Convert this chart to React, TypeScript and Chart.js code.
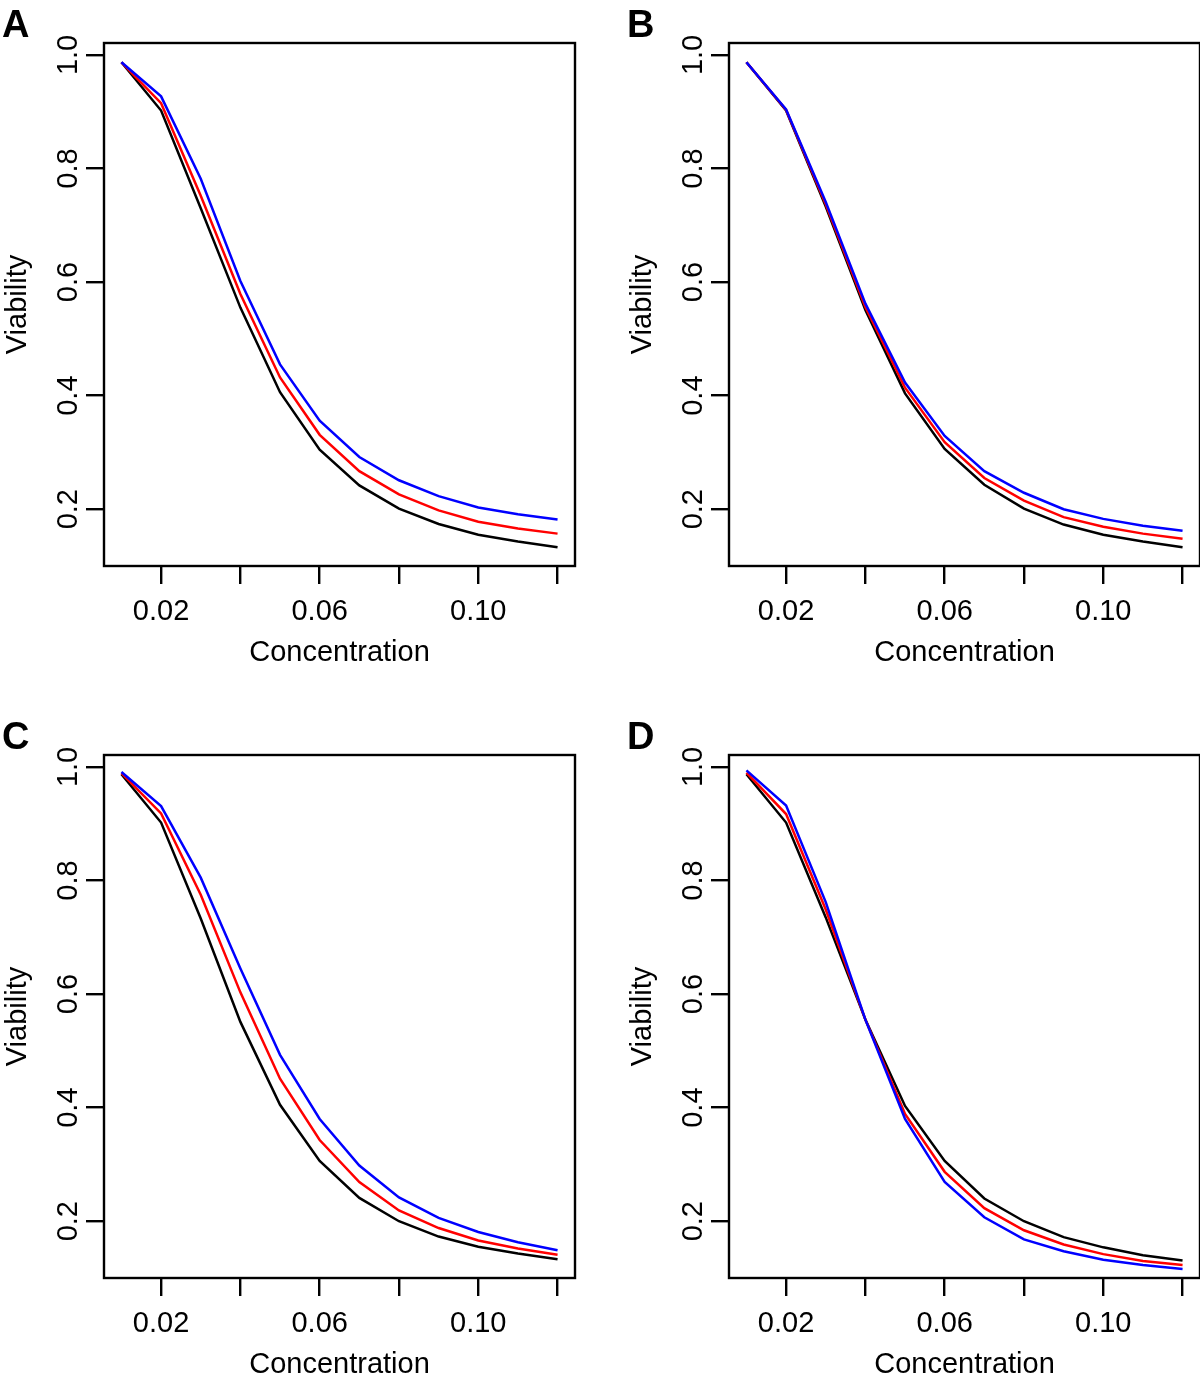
import React, { useEffect, useRef } from "react";
import { Chart, registerables } from "chart.js";

Chart.register(...registerables);

// ---- data ----
const concentration = [0.01, 0.02, 0.03, 0.04, 0.05, 0.06, 0.07, 0.08, 0.09, 0.1, 0.11, 0.12];
const xTicks = [0.02, 0.04, 0.06, 0.08, 0.1, 0.12];
const xTickLabels = [0.02, 0.06, 0.1];
const yTicks = [0.2, 0.4, 0.6, 0.8, 1.0];
const panelLetters = ["A", "B", "C", "D"];
const xTitle = "Concentration";
const yTitle = "Viability";

const blackA = [0.987, 0.902, 0.73, 0.555, 0.406, 0.305, 0.242, 0.201, 0.174, 0.155, 0.143, 0.133];
const redA = [0.987, 0.915, 0.752, 0.579, 0.432, 0.331, 0.267, 0.226, 0.198, 0.178, 0.166, 0.157];
const blueA = [0.987, 0.927, 0.782, 0.602, 0.455, 0.356, 0.292, 0.251, 0.223, 0.203, 0.191, 0.182];

const blackB = [0.987, 0.902, 0.733, 0.551, 0.404, 0.306, 0.243, 0.201, 0.173, 0.155, 0.143, 0.133];
const redB = [0.987, 0.903, 0.737, 0.556, 0.414, 0.318, 0.255, 0.215, 0.186, 0.169, 0.157, 0.148];
const blueB = [0.987, 0.904, 0.741, 0.562, 0.423, 0.329, 0.267, 0.229, 0.2, 0.183, 0.171, 0.162];

const blackC = [0.987, 0.902, 0.733, 0.551, 0.405, 0.306, 0.241, 0.2, 0.173, 0.155, 0.143, 0.133];
const redC = [0.989, 0.918, 0.775, 0.603, 0.451, 0.343, 0.269, 0.219, 0.188, 0.166, 0.152, 0.141];
const blueC = [0.991, 0.931, 0.805, 0.645, 0.493, 0.38, 0.298, 0.242, 0.206, 0.181, 0.163, 0.149];

const blackD = [0.987, 0.902, 0.735, 0.555, 0.403, 0.306, 0.24, 0.2, 0.172, 0.154, 0.14, 0.131];
const redD = [0.99, 0.917, 0.749, 0.555, 0.389, 0.287, 0.223, 0.184, 0.159, 0.142, 0.13, 0.123];
const blueD = [0.994, 0.932, 0.762, 0.555, 0.38, 0.269, 0.207, 0.168, 0.147, 0.132, 0.123, 0.116];

const panelSeries = [
  [blackA, redA, blueA],
  [blackB, redB, blueB],
  [blackC, redC, blueC],
  [blackD, redD, blueD],
];

const X_MIN = 0.0056;
const X_MAX = 0.1244;
const Y_MIN = 0.1;
const Y_MAX = 1.021;

const FONT = '"Liberation Sans", Arial, Helvetica, sans-serif';

// layout (pixels)
const CANVAS_W = 577;
const CANVAS_H = 668;
const AREA_LEFT = 104;
const AREA_TOP = 43;
const AREA_RIGHT = 575;
const AREA_BOTTOM = 566;
const panelPositions = [
  { left: 0, top: 0 },
  { left: 625, top: 0 },
  { left: 0, top: 712 },
  { left: 625, top: 712 },
];

function fmt(v: number, digits: number) {
  return v.toFixed(digits);
}

const decorPlugin = {
  id: "decor",
  afterDraw(chart: any) {
    const { ctx, chartArea } = chart;
    const xs = chart.scales.x;
    const ys = chart.scales.y;
    const letter = chart.options.plugins.decor.letter;
    ctx.save();
    // box
    ctx.strokeStyle = "#000";
    ctx.lineWidth = 2.4;
    ctx.strokeRect(chartArea.left, chartArea.top, chartArea.right - chartArea.left, chartArea.bottom - chartArea.top);

    ctx.fillStyle = "#000";
    ctx.font = `29px ${FONT}`;
    ctx.textBaseline = "alphabetic";
    // x tick labels
    ctx.textAlign = "center";
    xTickLabels.forEach((v) => {
      ctx.fillText(fmt(v, 2), xs.getPixelForValue(v), chartArea.bottom + 54);
    });
    // x title
    ctx.fillText(xTitle, (chartArea.left + chartArea.right) / 2, chartArea.bottom + 95);
    // y tick labels
    yTicks.forEach((v) => {
      ctx.save();
      ctx.translate(chartArea.left - 27, ys.getPixelForValue(v));
      ctx.rotate(-Math.PI / 2);
      ctx.fillText(fmt(v, 1), 0, 0);
      ctx.restore();
    });
    // y title
    ctx.save();
    ctx.translate(chartArea.left - 78, (chartArea.top + chartArea.bottom) / 2);
    ctx.rotate(-Math.PI / 2);
    ctx.fillText(yTitle, 0, 0);
    ctx.restore();
    // panel letter
    ctx.font = `bold 38px ${FONT}`;
    ctx.textAlign = "left";
    ctx.fillText(letter, chartArea.left - 102, chartArea.top - 6);
    ctx.restore();
  },
};

function Panel({ index }: { index: number }) {
  const ref = useRef<HTMLCanvasElement | null>(null);
  useEffect(() => {
    if (!ref.current) return;
    const [black, red, blue] = panelSeries[index];
    const toPts = (arr: number[]) => concentration.map((c, i) => ({ x: c, y: arr[i] }));
    const chart = new Chart(ref.current, {
      type: "line",
      data: {
        datasets: [
          { data: toPts(blue), borderColor: "#0000FF", borderWidth: 2.5, pointRadius: 0, tension: 0, fill: false },
          { data: toPts(red), borderColor: "#FF0000", borderWidth: 2.5, pointRadius: 0, tension: 0, fill: false },
          { data: toPts(black), borderColor: "#000000", borderWidth: 2.5, pointRadius: 0, tension: 0, fill: false },
        ],
      },
      options: {
        responsive: false,
        animation: false,
        devicePixelRatio: 1,
        layout: { padding: { left: 0, top: AREA_TOP, right: CANVAS_W - AREA_RIGHT, bottom: 0 } },
        plugins: {
          legend: { display: false },
          tooltip: { enabled: false },
          decor: { letter: panelLetters[index] },
        } as any,
        scales: {
          x: {
            type: "linear",
            min: X_MIN,
            max: X_MAX,
            afterBuildTicks: (scale: any) => {
              scale.ticks = xTicks.map((v) => ({ value: v }));
            },
            afterFit: (scale: any) => {
              scale.height = CANVAS_H - AREA_BOTTOM;
            },
            ticks: { display: false },
            border: { display: false },
            grid: {
              drawOnChartArea: false,
              drawTicks: true,
              tickLength: 18,
              tickWidth: 2.4,
              tickColor: "#000",
              color: "#000",
              lineWidth: 2.4,
            },
          },
          y: {
            type: "linear",
            min: Y_MIN,
            max: Y_MAX,
            afterBuildTicks: (scale: any) => {
              scale.ticks = yTicks.map((v) => ({ value: v }));
            },
            afterFit: (scale: any) => {
              scale.width = AREA_LEFT;
            },
            ticks: { display: false },
            border: { display: false },
            grid: {
              drawOnChartArea: false,
              drawTicks: true,
              tickLength: 18,
              tickWidth: 2.4,
              tickColor: "#000",
              color: "#000",
              lineWidth: 2.4,
            },
          },
        },
      } as any,
      plugins: [decorPlugin],
    });
    return () => chart.destroy();
  }, [index]);
  const pos = panelPositions[index];
  return (
    <canvas
      ref={ref}
      width={CANVAS_W}
      height={CANVAS_H}
      style={{ position: "absolute", left: pos.left, top: pos.top, width: CANVAS_W, height: CANVAS_H }}
    />
  );
}

export default function App() {
  return (
    <div
      style={{
        position: "absolute",
        left: 0,
        top: 0,
        width: 1200,
        height: 1378,
        overflow: "hidden",
        background: "#fff",
      }}
    >
      {[0, 1, 2, 3].map((i) => (
        <Panel key={i} index={i} />
      ))}
    </div>
  );
}
